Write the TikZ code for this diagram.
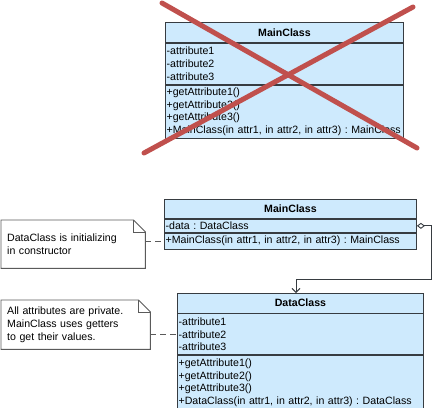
\documentclass[tikz,border=0pt]{standalone}
\usepackage{fontspec}
\setmainfont{Liberation Sans}
\usetikzlibrary{arrows.meta}
\definecolor{clsfill}{RGB}{206,234,253}
\definecolor{clsline}{RGB}{55,60,65}
\definecolor{crossred}{RGB}{192,80,77}
\definecolor{noteline}{RGB}{90,90,90}
\frenchspacing
\begin{document}
\begin{tikzpicture}[x=1bp,y=-1bp,
  every node/.style={font=\fontsize{10.6bp}{12.7bp}\selectfont\frenchspacing},
  comp/.style={draw=clsline,fill=clsfill,line width=0.9bp,rectangle,anchor=north west,inner sep=0pt},
  hdr/.style={comp,font=\fontsize{10.6bp}{12.7bp}\selectfont\bfseries},
  body/.style={comp,align=left,inner xsep=1.2bp},
  notebox/.style={rectangle,anchor=north west,align=left,inner xsep=6bp,inner ysep=0pt},
  noteedge/.style={draw=noteline,line width=0.9bp},
  notelink/.style={draw=noteline,line width=1.3bp,dash pattern=on 6bp off 4bp},
  cross/.style={draw=crossred,line width=5bp,line cap=round}
]
\useasboundingbox (0,0) rectangle (432,408);

% ---- crossed-out MainClass (top)
\node[hdr,minimum width=238bp,minimum height=20bp] (m1h) at (165,22) {MainClass};
\node[body,minimum width=238bp,minimum height=41bp,text width=235.6bp] (m1a) at (m1h.south west) {-attribute1\\-attribute2\\-attribute3};
\node[body,minimum width=238bp,minimum height=53bp,text width=235.6bp] (m1m) at (m1a.south west) {+getAttribute1()\\+getAttribute2()\\+getAttribute3()\\+MainClass(in attr1, in attr2, in attr3) : MainClass};
\coordinate (x1a) at (162,3);
\coordinate (x1b) at (417,148);
\coordinate (x2a) at (413,7);
\coordinate (x2b) at (144,153);
\draw[cross] (x1a) -- (x1b);
\draw[cross] (x2a) -- (x2b);

% ---- MainClass
\node[hdr,minimum width=252bp,minimum height=19bp] (m2h) at (164,199) {MainClass};
\node[body,minimum width=252bp,minimum height=13bp,text width=249.6bp] (m2a) at (m2h.south west) {-data : DataClass};
\node[body,minimum width=252bp,minimum height=16bp,text width=249.6bp] (m2m) at (m2a.south west) {+MainClass(in attr1, in attr2, in attr3) : MainClass};

% ---- DataClass
\node[hdr,minimum width=246bp,minimum height=19.5bp] (dh) at (177,293) {DataClass};
\node[body,minimum width=246bp,minimum height=41bp,text width=243.6bp] (da) at (dh.south west) {-attribute1\\-attribute2\\-attribute3};
\node[body,minimum width=246bp,minimum height=54bp,text width=243.6bp] (dm) at (da.south west) {+getAttribute1()\\+getAttribute2()\\+getAttribute3()\\+DataClass(in attr1, in attr2, in attr3) : DataClass};

% ---- notes
\node[notebox,minimum width=144bp,minimum height=48bp,text width=132bp] (n1) at (1,220) {DataClass is initializing\\in constructor};
\draw[noteedge] (n1.north west) -- ([xshift=-12bp]n1.north east) -- ([yshift=-12bp]n1.north east) -- (n1.south east) -- (n1.south west) -- cycle;
\draw[noteedge] ([xshift=-12bp]n1.north east) |- ([yshift=-12bp]n1.north east);

\node[notebox,minimum width=149bp,minimum height=49bp,text width=137bp] (n2) at (1,300) {All attributes are private.\\MainClass uses getters\\to get their values.};
\draw[noteedge] (n2.north west) -- ([xshift=-12bp]n2.north east) -- ([yshift=-12bp]n2.north east) -- (n2.south east) -- (n2.south west) -- cycle;
\draw[noteedge] ([xshift=-12bp]n2.north east) |- ([yshift=-12bp]n2.north east);

% ---- note links
\draw[notelink] (n1.east |- m2m.west) -- (m2m.west);
\draw[notelink] (n2.east |- da.west) -- (da.west);

% ---- aggregation
\coordinate (r1) at (431,0);
\coordinate (r2) at (296,279);
\draw[clsline,line width=0.9bp,{Diamond[open,length=8bp,width=6bp]}-{Straight Barb[length=4bp,width=8bp]}]
  (m2a.east) -- (m2a.east -| r1) -- (r1 |- r2) -- (r2) -- (r2 |- dh.north);
\end{tikzpicture}
\end{document}
